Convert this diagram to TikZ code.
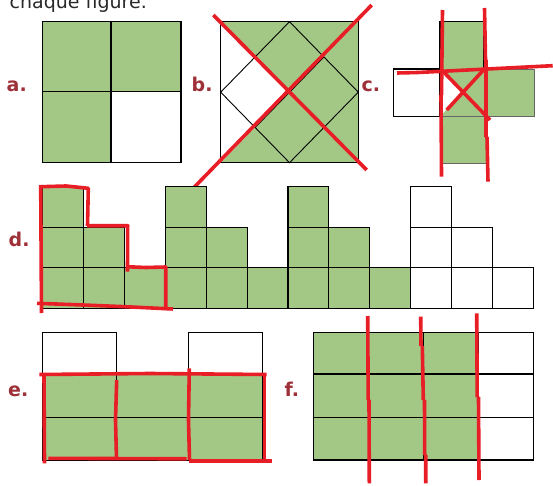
\documentclass[tikz,border=0pt]{standalone}
\usepackage{fontspec}
\setmainfont{DejaVu Sans}
\definecolor{leaf}{RGB}{163,200,133}
\definecolor{lab}{RGB}{158,48,56}
\definecolor{pen}{RGB}{232,30,38}
\definecolor{txt}{RGB}{40,40,40}
\tikzset{
  cell/.style={draw=black,line width=1.1pt},
  gcell/.style={cell,fill=leaf},
  thin/.style={draw=black,line width=0.9pt},
  mark/.style={},
  redpen/.style={draw=pen,line width=3.6pt,line join=round},
  lbl/.style={text=lab,font=\bfseries\fontsize{19}{19}\selectfont,anchor=base west,inner sep=0pt},
}
\begin{document}
\begin{tikzpicture}[x=1pt,y=-1pt]
\useasboundingbox (0,0) rectangle (553,486);
\fill[white] (0,0) rectangle (553,486);
% title (cut off at top)
\node[text=txt,font=\fontsize{19}{19}\selectfont,anchor=base east,inner sep=0pt] (title) at (147,9) {chaque figure.};
% labels
\node[lbl] (la) at (6.5,91.5) {a.};
\node[lbl] (lb) at (191.5,91.5) {b.};
\node[lbl] (lc) at (361.5,91.5) {c.};
\node[lbl] (ld) at (8.5,246.5) {d.};
\node[lbl] (le) at (8,396) {e.};
\node[lbl] (lf) at (284.5,396) {f.};

% ---------- a ----------
\fill[leaf] (42.7,21.7) rectangle (181,91.7);
\fill[leaf] (42.7,91.7) rectangle (111,162.7);
\draw[cell] (42.7,21.7) rectangle (181,162.7);
\draw[cell] (111,21.7) -- (111,162.7) (42.7,91.7) -- (181,91.7);

% ---------- b ----------
\fill[leaf] (220.7,21.7) -- (358.3,21.7) -- (358.3,162.7) -- (220.7,162.7) -- (289.5,92.2) -- cycle;
\draw[cell] (220.7,21.7) rectangle (358.3,162.7);
\draw[thin] (289.5,21.7) -- (358.3,92.2) -- (289.5,162.7) -- (220.7,92.2) -- cycle;
\draw[thin] (255.1,57) -- (323.9,127.5) (323.9,57) -- (255.1,127.5);
\draw[redpen] (213.3,15) -- (366.7,170);
\draw[redpen] (371.7,5) -- (188.3,193.3);

% ---------- c ----------
\draw[cell] (393.3,69) rectangle (440,116.7);
\fill[leaf] (440,21.7) rectangle (484,69);
\fill[leaf] (440,69) -- (484,69) -- (484,116.7) -- (440,116.7) -- (462,92.8) -- cycle;
\fill[leaf] (484,69) rectangle (534,116.7);
\fill[leaf] (442,116.7) rectangle (486,163.3);
\draw[cell] (440,69) -- (440,21.7) -- (484,21.7) -- (484,69);
\draw[thin,draw=black!60] (484,69) -- (534,69) -- (534,116.7) -- (484,116.7);
\draw[thin,draw=black!60] (442,116.7) -- (442,163.3) -- (486,163.3) -- (486,116.7);
\draw[thin,draw=black!60] (440,116.7) -- (486,116.7);
\draw[redpen] (442.5,10) -- (441.5,95) (441,95) -- (441.5,176.7);
\draw[redpen] (484.5,8) -- (485.5,60) (486,60) -- (486,137) (487,137) -- (488,181.7);
\draw[redpen] (397,73) -- (418,72.5) -- (552.7,65.7);
\draw[redpen] (441.7,70) -- (490,120);
\draw[redpen] (446.7,110) -- (485,68.3);

% ---------- d ----------
\foreach \h [count=\i from 0] in {3,2,1,3,2,1,3,2,1,3,2,1}{
  \foreach \j in {1,...,\h}{
    \pgfmathsetmacro{\xa}{42.7+\i*40.88}
    \pgfmathsetmacro{\ya}{308.3-\j*40.53}
    \ifnum\i<9
      \draw[gcell] (\xa,\ya) rectangle ++(40.88,40.53);
    \else
      \draw[cell] (\xa,\ya) rectangle ++(40.88,40.53);
    \fi
  }
}
\draw[redpen] (40.7,185) -- (41.5,313);
\draw[redpen] (41.7,186.7) -- (66,186) -- (88.3,188.3) -- (87.5,226);
\draw[redpen] (87,225.7) -- (127.7,225.7) -- (127.5,271.7);
\draw[redpen] (126,266.7) -- (146,267.5) -- (165.7,267) -- (165.7,310);
\draw[redpen] (37,303.3) -- (83,305) -- (125,306.7) -- (173,309);

% ---------- e ----------
\draw[cell] (42.3,332.3) rectangle (116.7,373.3);
\draw[cell] (188.3,332.3) rectangle (262.3,373.3);
\draw[gcell] (42.3,373.3) rectangle (262.3,460.7);
\draw[cell] (116.7,373.3) -- (116.7,460.7) (188.3,373.3) -- (188.3,460.7) (42.3,417.3) -- (262.3,417.3);
\draw[redpen] (39.3,374.5) -- (150,373.5) -- (266.7,374.5);
\draw[redpen] (44,374) -- (44.5,463.3);
\draw[redpen] (116.7,380) -- (115.5,420) -- (116.5,458.3);
\draw[redpen] (189.3,368.3) -- (188.5,420) -- (189.5,460);
\draw[redpen] (264.3,374) -- (264.3,460);
\draw[redpen] (48.3,458.3) -- (186.7,458.8);
\draw[redpen] (189,460.7) -- (271.7,460.7);

% ---------- f ----------
\fill[leaf] (313.3,332.7) rectangle (478.3,460);
\draw[cell] (313.3,332.7) rectangle (533.3,460);
\foreach \xx in {368.3,423.3,478.3}{\draw[cell] (\xx,332.7) -- (\xx,460);}
\draw[draw=black,line width=2.2pt] (313.3,374.3) -- (533.3,374.3);
\draw[cell] (313.3,417.7) -- (533.3,417.7);
\draw[redpen] (367.7,316) -- (368.2,400) (369,400) -- (369.3,483.3);
\draw[redpen] (420.7,316.7) -- (421,346) (422.3,346) -- (423.3,400) (424.5,400) -- (424.7,455) (425.7,455) -- (425.7,483.3);
\draw[redpen] (476.7,313.3) -- (477.2,397) (478.5,397) -- (479,480);
\end{tikzpicture}
\end{document}
